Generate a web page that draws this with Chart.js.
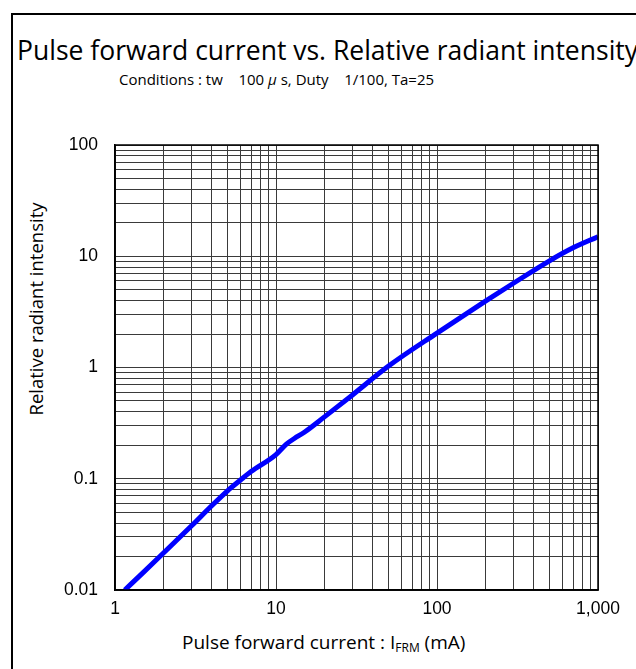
<!DOCTYPE html>
<html lang="en">
<head>
    <meta charset="UTF-8">
    <title>Pulse forward current vs. Relative radiant intensity</title>
    <script src="https://cdn.jsdelivr.net/npm/chart.js"></script>
    <style>
        body { margin: 0; background: #fff; }
        .wrap {
            position: relative;
            width: 636px;
            height: 669px;
            overflow: hidden;
            font-family: 'Open Sans', sans-serif;
            color: #000;
        }
        .frame {
            position: absolute;
            left: 11px; top: 13px;
            width: 700px; height: 700px;
            border: 2px solid #000;
        }
        .title {
            position: absolute;
            left: 17px; top: 32px;
            font-size: 26.5px;
            white-space: nowrap;
        }
        .subtitle {
            position: absolute;
            left: 119px; top: 69px;
            font-size: 15px;
            white-space: nowrap;
        }
        .ytitle {
            position: absolute;
            left: 35px; top: 309px;
            font-size: 18.5px;
            white-space: nowrap;
            transform: translate(-50%, -50%) rotate(-90deg);
        }
        .xtitle {
            position: absolute;
            left: 182px; top: 629px;
            font-size: 19px;
            white-space: nowrap;
        }
        .xtitle sub { font-size: 12px; vertical-align: -3px; }
        canvas { position: absolute; left: 0; top: 0; }
    </style>
</head>
<body>
<div class="wrap">
    <div class="frame"></div>
    <div class="title">Pulse forward current vs. Relative radiant intensity</div>
    <div class="subtitle">Conditions : tw&nbsp;&nbsp;&nbsp;&nbsp;100 <i>&mu;</i> s, Duty&nbsp;&nbsp;&nbsp;&nbsp;1/100, Ta=25</div>
    <div class="ytitle">Relative radiant intensity</div>
    <div class="xtitle">Pulse forward current : I<sub>FRM</sub> (mA)</div>
    <canvas id="chart" width="636" height="669"></canvas>
</div>

<script>
    // pulse forward current (mA) and relative radiant intensity
    const current   = [1.15, 1.5, 2, 3, 4, 5, 6, 7, 10, 11.6, 13, 15, 20, 30, 50, 100, 200, 300, 500, 700, 1000];
    const intensity = [0.01, 0.0144, 0.0215, 0.038, 0.0575, 0.078, 0.097, 0.116, 0.165, 0.205, 0.23, 0.262, 0.36, 0.57, 1.03, 2.04, 3.95, 5.75, 9.1, 11.9, 15];

    const xTicks = [1,2,3,4,5,6,7,8,9,10,20,30,40,50,60,70,80,90,100,200,300,400,500,600,700,800,900,1000];
    const yTicks = [0.01,0.02,0.03,0.04,0.05,0.06,0.07,0.08,0.09,0.1,0.2,0.3,0.4,0.5,0.6,0.7,0.8,0.9,
                    1,2,3,4,5,6,7,8,9,10,20,30,40,50,60,70,80,90,100];
    const xLabels = {1: '1', 10: '10', 100: '100', 1000: '1,000'};
    const yLabels = {0.01: '0.01', 0.1: '0.1', 1: '1', 10: '10', 100: '100'};

    const tickFont = {family: "'Liberation Sans', Arial, sans-serif", size: 17.5};

    const areaBorder = {
        id: 'areaBorder',
        afterDraw(chart) {
            const a = chart.chartArea, ctx = chart.ctx;
            ctx.save();
            ctx.strokeStyle = '#000';
            ctx.lineWidth = 1.5;
            ctx.strokeRect(a.left, a.top, a.right - a.left, a.bottom - a.top);
            ctx.restore();
        }
    };

    new Chart(document.getElementById('chart'), {
        type: 'line',
        data: {
            datasets: [{
                data: current.map((x, i) => ({x, y: intensity[i]})),
                borderColor: '#0000ff',
                borderWidth: 5,
                pointRadius: 0,
                cubicInterpolationMode: 'monotone'
            }]
        },
        options: {
            responsive: false,
            animation: false,
            layout: {padding: {top: 145, right: 38, left: 0, bottom: 0}},
            plugins: {legend: {display: false}, tooltip: {enabled: false}},
            scales: {
                x: {
                    type: 'logarithmic',
                    min: 1, max: 1000,
                    afterBuildTicks: s => { s.ticks = xTicks.map(v => ({value: v})); },
                    afterFit: s => { s.height = 79; },
                    ticks: {
                        autoSkip: false, maxRotation: 0, padding: 9,
                        color: '#000', font: tickFont,
                        callback: v => xLabels[v] || ''
                    },
                    grid: {color: '#3a3a3a', lineWidth: 1, drawTicks: false},
                    border: {color: '#000', width: 1.5}
                },
                y: {
                    type: 'logarithmic',
                    min: 0.01, max: 100,
                    afterBuildTicks: s => { s.ticks = yTicks.map(v => ({value: v})); },
                    afterFit: s => { s.width = 115; },
                    ticks: {
                        autoSkip: false, padding: 17,
                        color: '#000', font: tickFont,
                        callback: v => yLabels[v] || ''
                    },
                    grid: {color: '#3a3a3a', lineWidth: 1, drawTicks: false},
                    border: {color: '#000', width: 1.5}
                }
            }
        },
        plugins: [areaBorder]
    });
</script>
</body>
</html>
